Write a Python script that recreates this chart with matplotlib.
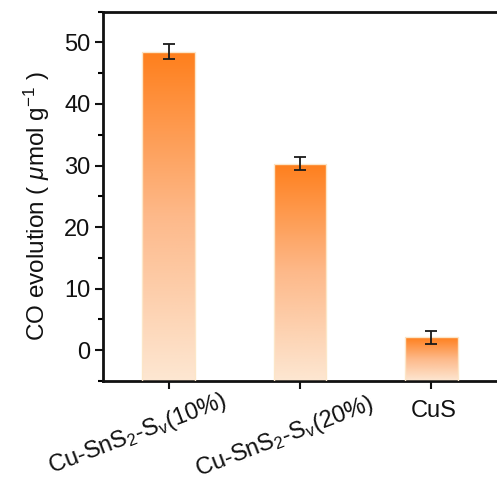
import numpy as np
import matplotlib
matplotlib.use("Agg")
import matplotlib.pyplot as plt
from matplotlib.colors import LinearSegmentedColormap

plt.rcParams['font.family'] = ['Liberation Sans', 'DejaVu Sans']
plt.rcParams['mathtext.fontset'] = 'custom'
plt.rcParams['mathtext.rm'] = 'Liberation Sans'
plt.rcParams['mathtext.it'] = 'Liberation Sans:italic'
plt.rcParams['mathtext.bf'] = 'Liberation Sans:bold'

# ---- data ----
categories = ['Cu-SnS$_2$-S$_\\mathrm{v}$(10%)', 'Cu-SnS$_2$-S$_\\mathrm{v}$(20%)', 'CuS']
co_values = [48.5, 30.3, 2.1]
co_errors = [1.2, 1.1, 1.1]
y_ticks = [0, 10, 20, 30, 40, 50]

# ---- style ----
label_rot = [21, 21, 0]
label_off = [(-31, -53), (-15, -56), (2, -30)]   # pixel offsets of label centers from tick
cmap = LinearSegmentedColormap.from_list('og', ['#FDE7D2', '#FDB98A', '#FF7F1C'])

fig = plt.figure(figsize=(4.97, 4.84), dpi=100)
ax = fig.add_axes([0.207, 0.2128, 0.793, 0.7632])
ymin, ymax = -5, 55
ax.set_xlim(0.5, 3.5)
ax.set_ylim(ymin, ymax)

x = np.arange(1, len(categories) + 1)
heights = np.array(co_values) - ymin
bars = ax.bar(x, heights, bottom=ymin, width=0.4, facecolor='none',
              edgecolor='#FCE6C8', linewidth=1.0, zorder=3)

grad = np.linspace(0, 1, 256).reshape(-1, 1)
for b in bars:
    x0, y0 = b.get_x(), b.get_y()
    w, h = b.get_width(), b.get_height()
    im = ax.imshow(grad, cmap=cmap, origin='lower', aspect='auto',
                   extent=[x0, x0 + w, y0, y0 + h], zorder=2)
    im.set_clip_path(b)

ax.errorbar(x, co_values, yerr=co_errors, fmt='none', ecolor='#1a1a1a',
            elinewidth=1.3, capsize=4, capthick=1.3, zorder=4)

ax.set_xticks(x)
ax.set_xticklabels([''] * len(x))
ax.set_yticks(y_ticks)
ax.set_yticks(np.arange(-5, 56, 5), minor=True)
ax.tick_params(axis='both', which='major', direction='out', length=6, width=1.5,
               labelsize=17, colors='#111111', pad=3)
ax.tick_params(axis='y', which='minor', direction='out', length=3.5, width=1.5)
ax.tick_params(axis='x', which='minor', bottom=False)

for s in ['left', 'bottom', 'top']:
    ax.spines[s].set_linewidth(2)
    ax.spines[s].set_color('#111111')
ax.spines['right'].set_visible(False)

for xi, lab, rot, (dx, dy) in zip(x, categories, label_rot, label_off):
    ax.annotate(lab, xy=(xi, 0), xycoords=('data', 'axes fraction'),
                xytext=(dx * 0.72, dy * 0.72), textcoords='offset points',
                ha='center', va='center', rotation=rot, rotation_mode='anchor',
                fontsize=17, color='#111111', annotation_clip=False)

ax.set_ylabel('CO evolution ( $\\mu$mol g$^{-1}$ )', fontsize=17.5, color='#111111')
ax.yaxis.set_label_coords(-0.13, 0.474)

fig.savefig('out.png', dpi=100)
